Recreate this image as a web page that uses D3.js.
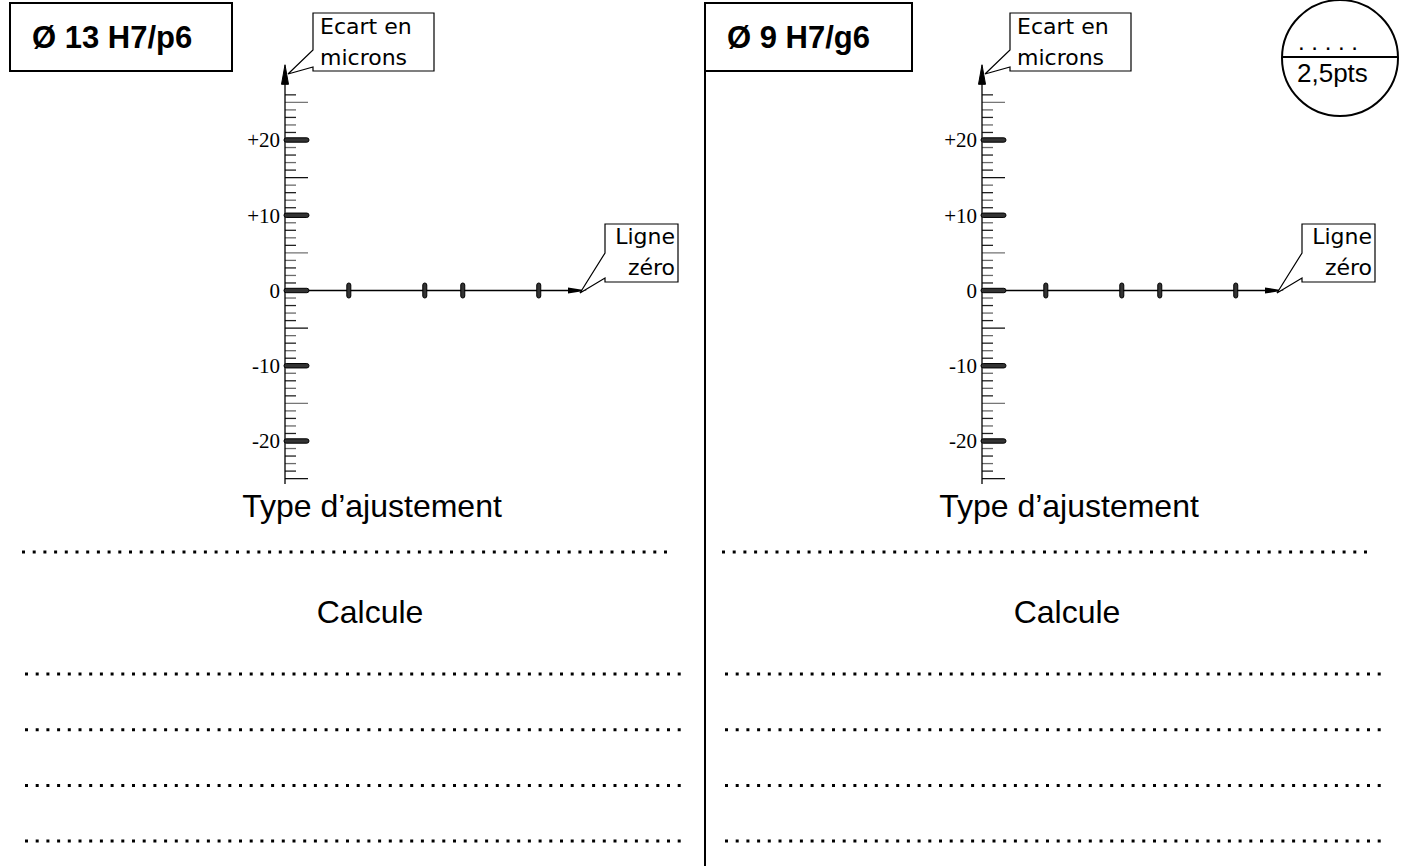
<!DOCTYPE html>
<html><head><meta charset="utf-8">
<script src="https://cdn.jsdelivr.net/npm/d3@7"></script>
<style>html,body{margin:0;padding:0;background:#fff;}svg{display:block;}</style>
</head><body>
<script>
// ---- data ----
const panelTitles = ["Ø 13 H7/p6", "Ø 9 H7/g6"];
const majorTicks = [-20, -10, 0, 10, 20];
const majorLabels = ["-20", "-10", "0", "+10", "+20"];
const minorTicks = d3.range(-25, 27);          // 1 micron graduations
const mediumTicks = [-25, -15, -5, 5, 15, 25];
const xMarks = [0, 2, 3, 5];                   // marks on the zero line
const yCallout = ["Ecart en", "microns"];
const xCallout = ["Ligne", "zéro"];
const sectionTitles = ["Type d’ajustement", "Calcule"];
const answerLines = [1, 2, 3, 4];
const scoreText = "2,5pts";

const W = 1402, H = 866;
const svg = d3.select("body").append("svg").attr("width", W).attr("height", H);
svg.append("rect").attr("width", W).attr("height", H).attr("fill", "#fff");

const comic = "'Comic Sans MS','DejaVu Sans',sans-serif";
const arial = "'Liberation Sans',Arial,sans-serif";
const serif = "'Liberation Serif','Times New Roman',serif";

const y = d3.scaleLinear().domain([-20, 20]).range([441, 140]);
const panelOffset = [0, 697];

// divider
svg.append("line").attr("x1", 705).attr("x2", 705).attr("y1", 3).attr("y2", H)
  .attr("stroke", "#000").attr("stroke-width", 2);

panelOffset.forEach((dx, pi) => {
  const g = svg.append("g").attr("transform", `translate(${dx},0)`);
  const ax = 285;
  const x = d3.scaleLinear().domain([-1.68, 6.27]).range([ax, 587]);

  // header box
  const titleW = pi === 0 ? 222 : 207;
  g.append("rect").attr("x", pi === 0 ? 10 : 8).attr("y", 3).attr("width", titleW).attr("height", 68)
    .attr("fill", "none").attr("stroke", "#000").attr("stroke-width", 2);
  g.append("text").attr("x", pi === 0 ? 32 : 30).attr("y", 48)
    .attr("font-family", arial).attr("font-weight", "bold").attr("font-size", 31)
    .text(panelTitles[pi]);

  // minor ticks
  g.selectAll(".minor").data(minorTicks.filter(v => !majorTicks.includes(v) && !mediumTicks.includes(v)))
    .join("line")
    .attr("x1", ax).attr("x2", ax + 11)
    .attr("y1", d => y(d)).attr("y2", d => y(d))
    .attr("stroke", (d, i) => i % 2 ? "#6a6a6a" : "#222").attr("stroke-width", 1.3);
  g.selectAll(".medium").data(mediumTicks).join("line")
    .attr("x1", ax).attr("x2", ax + 23)
    .attr("y1", d => y(d)).attr("y2", d => y(d))
    .attr("stroke", (d, i) => i % 2 ? "#777" : "#111").attr("stroke-width", 1.3);

  // y axis line
  g.append("line").attr("x1", ax).attr("x2", ax).attr("y1", y(27.6)).attr("y2", y(-25.7))
    .attr("stroke", "#000").attr("stroke-width", 1.3);
  g.append("path").attr("d", `M${ax},${y(30)} L${ax + 3.5},${y(27.4)} L${ax - 3.5},${y(27.4)} Z`)
    .attr("fill", "#000").attr("stroke", "#000").attr("stroke-width", 1);

  // x axis
  g.append("line").attr("x1", ax).attr("x2", 570).attr("y1", y(0)).attr("y2", y(0))
    .attr("stroke", "#000").attr("stroke-width", 1.3);
  g.append("path").attr("d", `M568,${y(0) - 3} L587,${y(0)} L568,${y(0) + 3} Z`)
    .attr("fill", "#000");

  // major ticks (outlined thick bars)
  g.selectAll(".major").data(majorTicks).join("rect")
    .attr("x", ax - 1).attr("y", d => y(d) - 2.2).attr("width", 25).attr("height", 4.4).attr("rx", 2.2)
    .attr("fill", "#333").attr("stroke", "#000").attr("stroke-width", 1);
  g.selectAll(".lab").data(majorTicks).join("text")
    .attr("x", ax - 5).attr("y", d => y(d)).attr("dy", "0.35em")
    .attr("text-anchor", "end").attr("font-family", serif).attr("font-size", 21)
    .text((d, i) => majorLabels[i]);

  // marks on zero line
  g.selectAll(".xm").data(xMarks).join("rect")
    .attr("x", d => x(d) - 2).attr("y", y(0) - 7.5).attr("width", 4).attr("height", 15).attr("rx", 2)
    .attr("fill", "#333").attr("stroke", "#000").attr("stroke-width", 1);

  // y callout
  g.append("path").attr("d", "M313,13 H434 V71 H313 V67 L288,74 L313,50 Z")
    .attr("fill", "#fff").attr("stroke", "#000").attr("stroke-width", 1.2);
  g.selectAll(".yc").data(yCallout).join("text")
    .attr("x", 320).attr("y", (d, i) => 34 + i * 31)
    .attr("font-family", comic).attr("font-size", 22).text(d => d);

  // x callout
  g.append("path").attr("d", "M605,224 H678 V282 H605 V278 L580,293 L605,253 Z")
    .attr("fill", "#fff").attr("stroke", "#000").attr("stroke-width", 1.2);
  g.selectAll(".xc").data(xCallout).join("text")
    .attr("x", 675).attr("y", (d, i) => 244 + i * 31).attr("text-anchor", "end")
    .attr("font-family", comic).attr("font-size", 22).text(d => d);

  // section titles
  g.append("text").attr("x", 372).attr("y", 517).attr("text-anchor", "middle")
    .attr("font-family", arial).attr("font-size", 32).text(sectionTitles[0]);
  g.append("text").attr("x", 370).attr("y", 623).attr("text-anchor", "middle")
    .attr("font-family", arial).attr("font-size", 32).text(sectionTitles[1]);

  // dotted answer lines
  const dot = (x1, x2, yy) => g.append("line").attr("x1", x1).attr("x2", x2).attr("y1", yy).attr("y2", yy)
    .attr("stroke", "#000").attr("stroke-width", 3).attr("stroke-dasharray", "3 7.7");
  dot(pi === 0 ? 22 : 25, pi === 0 ? 674 : 676, 552);
  answerLines.forEach((d, i) => dot(pi === 0 ? 25 : 28, 685, 674 + i * 55.7));
});

// score circle
const sc = svg.append("g");
sc.append("circle").attr("cx", 1340).attr("cy", 58).attr("r", 58)
  .attr("fill", "none").attr("stroke", "#000").attr("stroke-width", 2);
sc.append("line").attr("x1", 1282).attr("x2", 1398).attr("y1", 57).attr("y2", 57)
  .attr("stroke", "#000").attr("stroke-width", 2);
sc.append("text").attr("x", 1298).attr("y", 50).attr("font-family", arial).attr("font-size", 24)
  .text(". . . . .");
sc.append("text").attr("x", 1297).attr("y", 82).attr("font-family", arial).attr("font-size", 26)
  .text(scoreText);
</script>
</body></html>
